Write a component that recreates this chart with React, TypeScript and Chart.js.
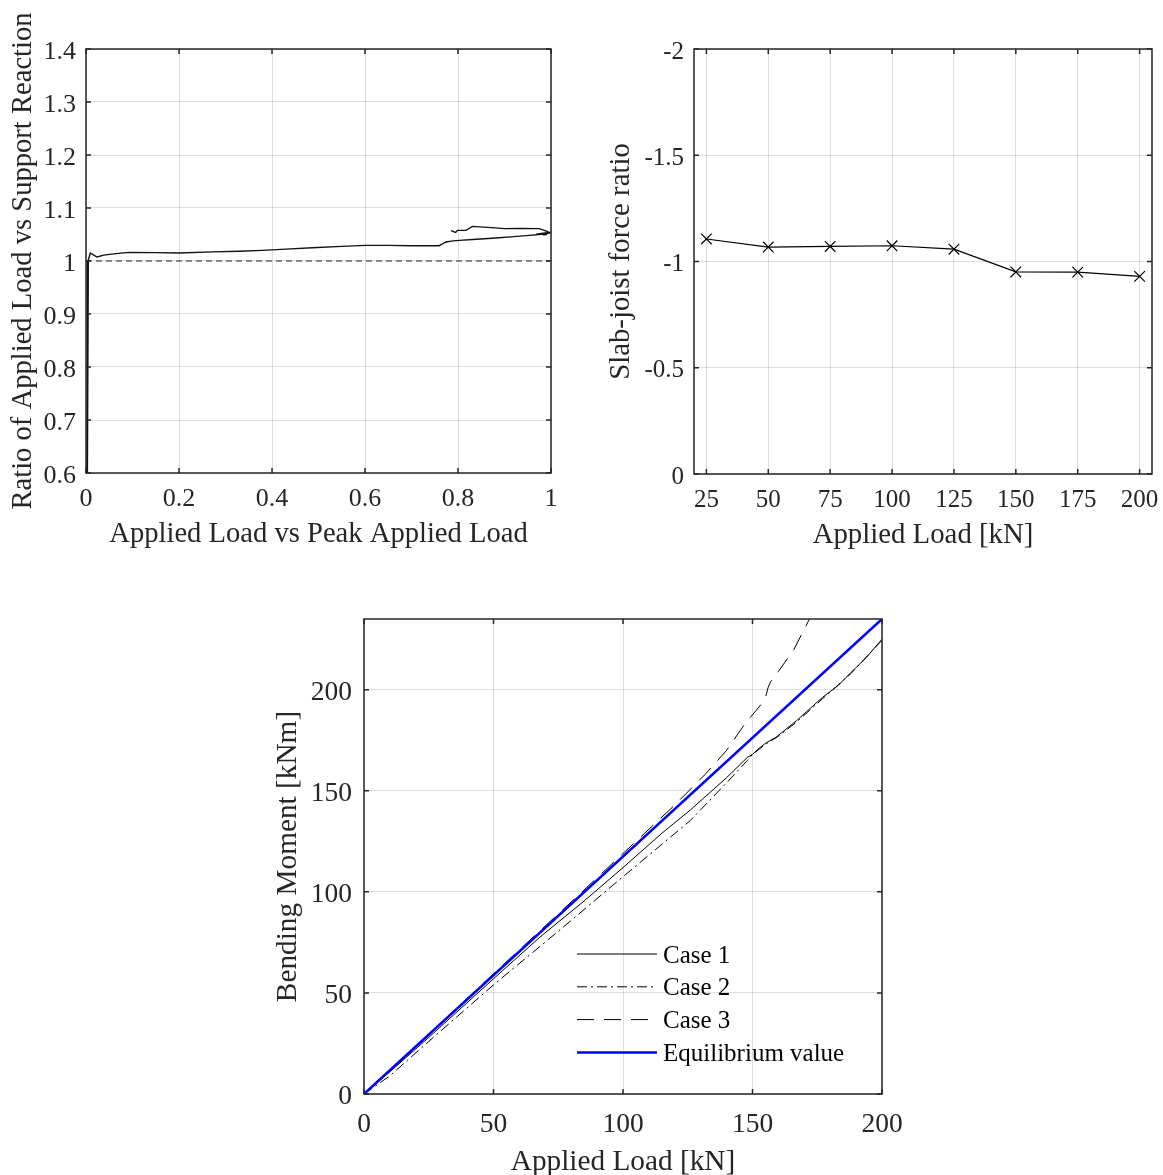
import React, { useEffect, useRef } from "react";
import { Chart, registerables } from "chart.js";

Chart.register(...registerables);

const SERIF = "'Liberation Serif', 'Times New Roman', serif";
const INK = "#262626";
const GRID = "rgba(0,0,0,0.13)";

// ---------- Panel A: ratio of applied load vs support reaction ----------
const ratioLoadFraction = [
  0.002, 0.004, 0.003, 0.005, 0.007, 0.0094, 0.015, 0.0237, 0.038, 0.06, 0.092, 0.15, 0.1996,
  0.272, 0.33, 0.379, 0.43, 0.4867, 0.55, 0.6016, 0.65, 0.7, 0.7595, 0.768, 0.774, 0.79,
  0.803, 0.84, 0.8816, 0.92, 0.9533, 0.98, 0.9963, 1.0, 0.975, 0.985, 0.99, 0.993, 0.9748,
  0.935, 0.8995, 0.88, 0.831, 0.817, 0.799, 0.795, 0.785,
];
const ratioValue = [
  0.6, 1.0, 0.6, 1.002, 1.008, 1.0151, 1.012, 1.0075, 1.011, 1.0135, 1.0162, 1.0158, 1.0151,
  1.0172, 1.0185, 1.02, 1.0225, 1.0251, 1.0275, 1.0294, 1.0294, 1.0288, 1.0289, 1.033, 1.0358,
  1.038, 1.039, 1.041, 1.0434, 1.046, 1.0483, 1.0505, 1.0528, 1.0545, 1.0515, 1.0495, 1.0498,
  1.0555, 1.061, 1.0612, 1.061, 1.0625, 1.0653, 1.0578, 1.0578, 1.054, 1.0572,
];
const ratioReferenceX = [0, 1];
const ratioReferenceY = [1, 1];
const ratioXTicks = [0, 0.2, 0.4, 0.6, 0.8, 1];
const ratioYTicks = [0.6, 0.7, 0.8, 0.9, 1, 1.1, 1.2, 1.3, 1.4];

// ---------- Panel B: slab-joist force ratio ----------
const slabLoads = [25, 50, 75, 100, 125, 150, 175, 200];
const slabForceRatio = [-1.106, -1.068, -1.071, -1.074, -1.058, -0.951, -0.95, -0.93];
const slabXTicks = [25, 50, 75, 100, 125, 150, 175, 200];
const slabYTicks = [-2, -1.5, -1, -0.5, 0];

// ---------- Panel C: bending moment ----------
const case1Load = [0, 10, 25, 50, 68, 85, 100, 115, 126, 140, 148, 150, 152, 155, 159, 167, 177, 183, 188, 194, 200];
const case1Moment = [0, 11, 28, 57, 77.7, 95.5, 112, 129, 140.5, 156.5, 166.5, 168, 170.5, 173.5, 176.4, 184.7, 196.2, 202, 208.5, 216, 225];
const case2Load = [0, 10, 25, 50, 75, 100, 126, 140, 148, 150, 155, 160, 167, 177, 188, 200];
const case2Moment = [0, 9, 26, 54, 80.5, 107.5, 135.3, 154, 165, 168, 173, 177, 184, 195.5, 208, 224.5];
const case3Load = [0, 25, 50, 80, 100, 120, 132, 140, 147, 153.5, 155, 156, 157, 160, 166, 172, 174];
const case3Moment = [0, 29.5, 59.5, 95, 119, 143, 158.5, 170, 183, 193, 196, 201, 204, 209, 220, 235, 239];
const equilibriumLoad = [0, 200];
const equilibriumMoment = [0, 235];
const momentXTicks = [0, 50, 100, 150, 200];
const momentYTicks = [0, 50, 100, 150, 200];

const zip = (xs: number[], ys: number[]) => xs.map((x, i) => ({ x, y: ys[i] }));

const boxPlugin = {
  id: "matlabBox",
  afterDraw(chart: any, _args: any, opts: any) {
    const { ctx, chartArea: a, scales } = chart;
    const len = opts.tickLength ?? 5;
    ctx.save();
    ctx.strokeStyle = INK;
    ctx.lineWidth = opts.lineWidth ?? 1.5;
    ctx.setLineDash([]);
    ctx.beginPath();
    for (const t of scales.x.ticks) {
      const p = scales.x.getPixelForValue(t.value);
      ctx.moveTo(p, a.bottom);
      ctx.lineTo(p, a.bottom - len);
      ctx.moveTo(p, a.top);
      ctx.lineTo(p, a.top + len);
    }
    for (const t of scales.y.ticks) {
      const p = scales.y.getPixelForValue(t.value);
      ctx.moveTo(a.left, p);
      ctx.lineTo(a.left + len, p);
      ctx.moveTo(a.right, p);
      ctx.lineTo(a.right - len, p);
    }
    ctx.stroke();
    ctx.strokeRect(a.left, a.top, a.right - a.left, a.bottom - a.top);
    ctx.restore();
  },
};

const inlineLegendPlugin = {
  id: "inlineLegend",
  afterDraw(chart: any, _args: any, opts: any) {
    if (!opts || !opts.show) return;
    const { ctx, chartArea: a } = chart;
    ctx.save();
    ctx.font = `${opts.fontSize}px ${SERIF}`;
    ctx.textBaseline = "middle";
    ctx.textAlign = "left";
    chart.data.datasets.forEach((ds: any, i: number) => {
      const y = a.top + opts.offsetY + i * opts.rowHeight;
      const x0 = a.left + opts.offsetX;
      ctx.strokeStyle = ds.borderColor;
      ctx.lineWidth = ds.borderWidth;
      ctx.setLineDash(ds.borderDash || []);
      ctx.beginPath();
      ctx.moveTo(x0, y);
      ctx.lineTo(x0 + opts.lineLength, y);
      ctx.stroke();
      ctx.setLineDash([]);
      ctx.fillStyle = "#000";
      ctx.fillText(ds.label, x0 + opts.lineLength + opts.textGap, y + opts.textDy);
    });
    ctx.restore();
  },
};

type AxisSpec = {
  min: number;
  max: number;
  ticks: number[];
  title: string;
  size: number; // width (y) or height (x) of the scale box
  tickPad: number;
  titlePad: number;
  tickFont: number;
  titleFont: number;
  reverse?: boolean;
};

function xScale(s: AxisSpec) {
  return {
    type: "linear",
    min: s.min,
    max: s.max,
    afterBuildTicks: (sc: any) => {
      sc.ticks = s.ticks.map((v) => ({ value: v }));
    },
    afterFit: (sc: any) => {
      sc.height = s.size;
      sc.paddingLeft = 0;
      sc.paddingRight = 0;
    },
    grid: { color: GRID, lineWidth: 1, drawTicks: false },
    border: { display: false },
    ticks: {
      padding: s.tickPad,
      color: INK,
      font: { family: SERIF, size: s.tickFont },
      maxRotation: 0,
      callback: (v: any) => String(v),
    },
    title: {
      display: true,
      text: s.title,
      color: INK,
      font: { family: SERIF, size: s.titleFont, lineHeight: 1 },
      padding: { top: 0, bottom: s.titlePad },
    },
  };
}

function yScale(s: AxisSpec) {
  return {
    type: "linear",
    min: s.min,
    max: s.max,
    reverse: !!s.reverse,
    afterBuildTicks: (sc: any) => {
      sc.ticks = s.ticks.map((v) => ({ value: v }));
    },
    afterFit: (sc: any) => {
      sc.width = s.size;
      sc.paddingTop = 0;
      sc.paddingBottom = 0;
    },
    grid: { color: GRID, lineWidth: 1, drawTicks: false },
    border: { display: false },
    ticks: {
      padding: s.tickPad,
      labelOffset: 3,
      color: INK,
      font: { family: SERIF, size: s.tickFont },
      callback: (v: any) => String(v),
    },
    title: {
      display: true,
      text: s.title,
      color: INK,
      font: { family: SERIF, size: s.titleFont, lineHeight: 1 },
      padding: { top: s.titlePad, bottom: 0 },
    },
  };
}

function baseOptions(padTop: number, padRight: number, x: AxisSpec, y: AxisSpec, legend?: any) {
  return {
    responsive: false,
    animation: false,
    devicePixelRatio: 1,
    layout: { padding: { top: padTop, right: padRight, left: 0, bottom: 0 } },
    plugins: {
      legend: { display: false },
      tooltip: { enabled: false },
      matlabBox: { tickLength: 5, lineWidth: 1.5 },
      inlineLegend: legend || { show: false },
    },
    scales: { x: xScale(x), y: yScale(y) },
  };
}

const buildRatio = () => ({
  type: "line",
  data: {
    datasets: [
      {
        label: "Ratio",
        data: zip(ratioLoadFraction, ratioValue),
        borderColor: "#111",
        borderWidth: 1.4,
        pointRadius: 0,
        tension: 0,
      },
      {
        label: "Unity",
        data: zip(ratioReferenceX, ratioReferenceY),
        borderColor: "#222",
        borderWidth: 1.2,
        borderDash: [6, 4],
        pointRadius: 0,
      },
    ],
  },
  options: baseOptions(
    49,
    29,
    { min: 0, max: 1, ticks: ratioXTicks, title: "Applied Load vs Peak Applied Load", size: 87, tickPad: 11, titlePad: 11, tickFont: 26, titleFont: 28.6 },
    { min: 0.6, max: 1.4, ticks: ratioYTicks, title: "Ratio of Applied Load vs Support Reaction", size: 86, tickPad: 10, titlePad: 9, tickFont: 26, titleFont: 28.6 }
  ),
  plugins: [boxPlugin, inlineLegendPlugin],
});

const buildSlab = () => ({
  type: "line",
  data: {
    datasets: [
      {
        label: "Slab-joist force ratio",
        data: zip(slabLoads, slabForceRatio),
        borderColor: "#000",
        borderWidth: 1.2,
        pointStyle: "crossRot",
        pointRadius: 7.5,
        pointBorderWidth: 1.2,
        pointBorderColor: "#000",
        tension: 0,
      },
    ],
  },
  options: baseOptions(
    49,
    11,
    { min: 20, max: 205, ticks: slabXTicks, title: "Applied Load [kN]", size: 86, tickPad: 11.5, titlePad: 10.5, tickFont: 25, titleFont: 28.8 },
    { min: -2, max: 0, reverse: true, ticks: slabYTicks, title: "Slab-joist force ratio", size: 94, tickPad: 10, titlePad: 7.5, tickFont: 25, titleFont: 28.8 }
  ),
  plugins: [boxPlugin, inlineLegendPlugin],
});

const buildMoment = () => ({
  type: "line",
  data: {
    datasets: [
      {
        label: "Case 1",
        data: zip(case1Load, case1Moment),
        borderColor: "#000",
        borderWidth: 1,
        pointRadius: 0,
        order: 1,
      },
      {
        label: "Case 2",
        data: zip(case2Load, case2Moment),
        borderColor: "#000",
        borderWidth: 1,
        borderDash: [10, 4, 2, 4],
        pointRadius: 0,
        order: 1,
      },
      {
        label: "Case 3",
        data: zip(case3Load, case3Moment),
        borderColor: "#000",
        borderWidth: 1,
        borderDash: [17, 10],
        pointRadius: 0,
        order: 1,
      },
      {
        label: "Equilibrium value",
        data: zip(equilibriumLoad, equilibriumMoment),
        borderColor: "#0000ff",
        borderWidth: 2.5,
        pointRadius: 0,
        order: 0,
      },
    ],
  },
  options: baseOptions(
    29,
    48,
    { min: 0, max: 200, ticks: momentXTicks, title: "Applied Load [kN]", size: 81, tickPad: 14.5, titlePad: -2, tickFont: 27.5, titleFont: 29.3 },
    { min: 0, max: 235, ticks: momentYTicks, title: "Bending Moment [kNm]", size: 114, tickPad: 12, titlePad: 24, tickFont: 27.5, titleFont: 29.3 },
    { show: true, fontSize: 25, offsetX: 213, offsetY: 335, rowHeight: 32.8, lineLength: 80, textGap: 6, textDy: 2 }
  ),
  plugins: [boxPlugin, inlineLegendPlugin],
});

function Panel({ left, top, width, height, build }: any) {
  const ref = useRef<HTMLCanvasElement>(null);
  useEffect(() => {
    const chart = new Chart(ref.current as HTMLCanvasElement, build() as any);
    return () => chart.destroy();
  }, [build]);
  return (
    <canvas
      ref={ref}
      width={width}
      height={height}
      style={{ position: "absolute", left, top, width, height, display: "block" }}
    />
  );
}

export default function App() {
  return (
    <div
      style={{
        position: "absolute",
        left: 0,
        top: 0,
        width: 1163,
        height: 1175,
        background: "#fff",
        overflow: "hidden",
      }}
    >
      <Panel left={0} top={0} width={580} height={560} build={buildRatio} />
      <Panel left={600} top={0} width={563} height={560} build={buildSlab} />
      <Panel left={250} top={590} width={680} height={585} build={buildMoment} />
    </div>
  );
}
